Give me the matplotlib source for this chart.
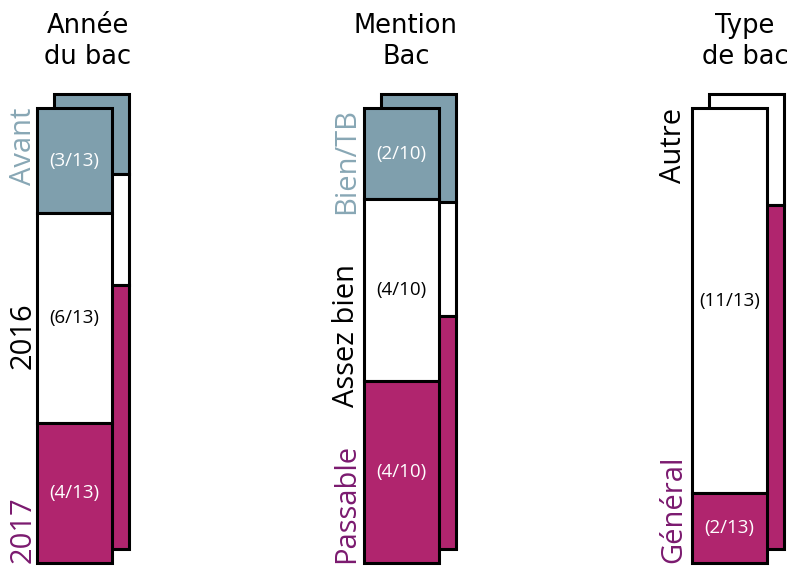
import matplotlib
matplotlib.use("Agg")
import matplotlib.pyplot as plt

# ---- data ----
titles = [["Année", "du bac"], ["Mention", "Bac"], ["Type", "de bac"]]

col1_labels = ["Avant", "2016", "2017"]
col1_counts = [3, 6, 4]
col1_back_pct = [17.5, 24.5, 58.0]

col2_labels = ["Bien/TB", "Assez bien", "Passable"]
col2_counts = [2, 4, 4]
col2_back_pct = [23.7, 25.0, 51.3]

col3_labels = ["Autre", "Général"]
col3_counts = [11, 2]
col3_back_pct = [24.3, 75.7]

# ---- style ----
TEAL = "#7f9fad"
MAG = "#b0256e"
WHITE = "#ffffff"
TEAL_TXT = "#88a7b5"
PURP_TXT = "#7b1a6f"

col_fill = [[TEAL, WHITE, MAG], [TEAL, WHITE, MAG], [WHITE, MAG]]
col_txt = [[TEAL_TXT, "black", PURP_TXT], [TEAL_TXT, "black", PURP_TXT], ["black", PURP_TXT]]
col_frac_color = [["white", "black", "white"], ["white", "black", "white"], ["black", "white"]]

W, H = 790, 566
fig = plt.figure(figsize=(W / 100, H / 100), dpi=100)
ax = fig.add_axes([0, 0, 1, 1])
ax.set_xlim(0, W)
SCALE = 455.0
BOT = 563.0
ax.set_ylim((BOT - H) / SCALE, BOT / SCALE)
ax.axis("off")


def py(p):
    return (BOT - p) / SCALE


front_left = [37, 364, 692]
bar_w = 75
back_dx = 17
back_dy = 14 / SCALE
lbl_off = [6, 10, 11]
title_x = [88, 406, 745]
LW = 2.2

columns = [
    (col1_labels, col1_counts, col1_back_pct),
    (col2_labels, col2_counts, col2_back_pct),
    (col3_labels, col3_counts, col3_back_pct),
]

for i, (labels, counts, back) in enumerate(columns):
    x0 = front_left[i]
    total = sum(counts)
    # back column (reference population), stacked top-down
    top = 1.0
    for j, pct in enumerate(back):
        h = pct / 100.0
        ax.bar(x0 + back_dx, h, bottom=back_dy + top - h, width=bar_w, align="edge",
               color=col_fill[i][j], edgecolor="black", linewidth=LW, zorder=1)
        top -= h
    # front column
    top = 1.0
    n = len(counts)
    for j, c in enumerate(counts):
        h = c / total
        b = top - h
        ax.bar(x0, h, bottom=b, width=bar_w, align="edge",
               color=col_fill[i][j], edgecolor="black", linewidth=LW, zorder=2)
        ax.text(x0 + bar_w / 2, b + h / 2, f"({c}/{total})", ha="center", va="center",
                color=col_frac_color[i][j], fontsize=13.5, family="Open Sans", zorder=3)
        # category label
        lx = x0 - lbl_off[i]
        if j == 0:
            ly, ha = 1.0, "right"
        elif j == n - 1:
            ly, ha = 0.0, "left"
        else:
            ly, ha = 0.5, "center"
        ax.text(lx, ly, labels[j], rotation=90, rotation_mode="anchor", ha=ha, va="baseline",
                color=col_txt[i][j], fontsize=21, family="Open Sans", zorder=3)
        top = b
    # title
    ax.text(title_x[i], py(33), titles[i][0], ha="center", va="baseline",
            fontsize=18.5, family="DejaVu Sans", color="black")
    ax.text(title_x[i], py(64), titles[i][1], ha="center", va="baseline",
            fontsize=18.5, family="DejaVu Sans", color="black")

fig.savefig("out.png", dpi=100)
